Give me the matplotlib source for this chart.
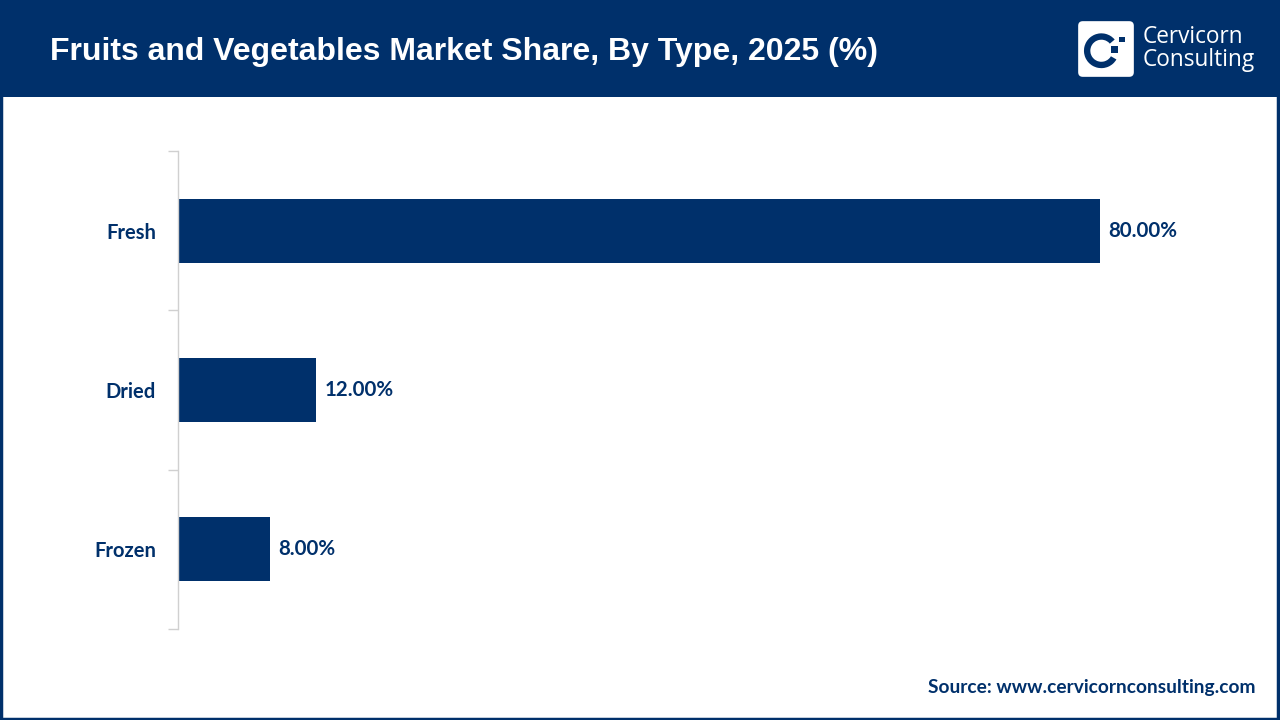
import matplotlib
matplotlib.use("Agg")
import matplotlib.pyplot as plt
from matplotlib.patches import Rectangle, FancyBboxPatch, Wedge

categories = ["Fresh", "Dried", "Frozen"]
values = [80.0, 12.0, 8.0]
value_labels = ["80.00%", "12.00%", "8.00%"]
title = "Fruits and Vegetables Market Share, By Type, 2025 (%)"
source = "Source: www.cervicornconsulting.com"

NAVY = "#00306B"
W, H = 1280, 720
fig = plt.figure(figsize=(12.8, 7.2), dpi=100)
fig.patch.set_facecolor("white")

# header band
fig.add_artist(Rectangle((0, 1 - 97 / H), 1, 97 / H, transform=fig.transFigure,
                         facecolor=NAVY, edgecolor="none", zorder=0))
# outer border
fig.add_artist(Rectangle((1 / W, 1 / H), 1 - 3 / W, 1 - 3 / H, transform=fig.transFigure,
                         facecolor="none", edgecolor=NAVY, linewidth=2.5, zorder=5))

fig.text(50 / W, 1 - 52 / H, title, color="white", fontsize=23, fontweight="bold",
         family="Liberation Sans", va="center", ha="left")

# logo
logo_ax = fig.add_axes([1077 / W, 1 - 78 / H, 58 / W, 58 / H])
logo_ax.set_xlim(0, 1); logo_ax.set_ylim(0, 1); logo_ax.axis("off")
logo_ax.add_patch(FancyBboxPatch((0.02, 0.02), 0.96, 0.96, boxstyle="round,pad=0,rounding_size=0.08",
                                 facecolor="white", edgecolor="none"))
logo_ax.add_patch(Wedge((0.42, 0.47), 0.30, 40, 330, width=0.11, facecolor=NAVY, edgecolor="none"))
logo_ax.add_patch(Rectangle((0.58, 0.43), 0.13, 0.13, facecolor=NAVY, edgecolor="none"))
logo_ax.add_patch(Rectangle((0.73, 0.62), 0.09, 0.09, facecolor=NAVY, edgecolor="none"))
fig.text(1143 / W, 1 - 37 / H, "Cervicorn", color="white", fontsize=16.3, family="Open Sans",
         va="center", ha="left")
fig.text(1143 / W, 1 - 60 / H, "Consulting", color="white", fontsize=16.3, family="Open Sans",
         va="center", ha="left")

# main axes
ax = fig.add_axes([178 / W, 1 - 629 / H, (1240 - 178) / W, (629 - 151) / H])
ypos = list(range(len(categories)))
ax.barh(ypos, values, height=0.4, color=NAVY)
ax.set_ylim(len(categories) - 0.5, -0.5)
ax.set_xlim(0, 92.1)
ax.set_yticks([y for y in ypos])
ax.set_yticklabels(categories, fontsize=14.5, fontweight="bold", color=NAVY, family="Lato")
ax.tick_params(axis="y", length=0, pad=16)
ax.set_yticks([-0.5, 0.5, 1.5, 2.5], minor=True)
ax.tick_params(axis="y", which="minor", length=7, color="#D0D0D0", width=1)
ax.set_xticks([])
for s in ["top", "right", "bottom"]:
    ax.spines[s].set_visible(False)
ax.spines["left"].set_color("#D0D0D0")
ax.spines["left"].set_linewidth(1)
for y, v, lab in zip(ypos, values, value_labels):
    ax.text(v + 0.7, y, lab, va="center", ha="left", fontsize=14.8, fontweight="bold",
            color=NAVY, family="Lato")

fig.text(1255 / W, 1 - 687 / H, source, color=NAVY, fontsize=13.8, fontweight="bold",
         family="Lato", va="center", ha="right")

fig.savefig("out.png", dpi=100, facecolor="white")
